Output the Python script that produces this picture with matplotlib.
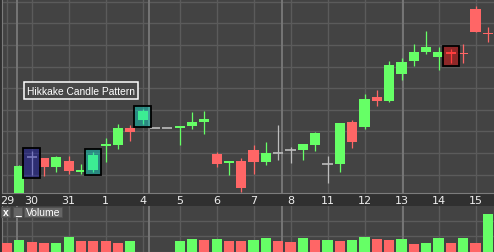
import numpy as np
import matplotlib
matplotlib.use("Agg")
import matplotlib.pyplot as plt
from matplotlib.patches import Rectangle

# ohlc, one bar per slot (slot 0 only has a volume bar)
opens = [np.nan, 100.4, 104.2, 104.1, 103.2, 103.8, 102.7, 102.9, 105.3, 105.4,
         107.1, 107.9, 107.1, 107.1, 107.1, 107.3, 107.7, 104.5, 103.6, 103.8,
         104.9, 103.7, 104.6, 104.9, 104.9, 105.4, 103.5, 103.5, 107.7, 107.2,
         110.2, 109.8, 112.5, 113.8, 114.7, 114.2, 114.7, 114.6, 119.0, 116.6]
highs = [np.nan, 103.4, 104.8, 104.1, 104.3, 104.3, 103.5, 104.7, 106.1, 107.5,
         107.4, 109.0, 107.1, 107.1, 107.3, 108.7, 108.8, 104.7, 103.8, 104.1,
         105.4, 105.7, 107.4, 105.2, 105.5, 106.7, 104.3, 107.6, 107.9, 110.5,
         110.9, 113.8, 114.1, 115.5, 116.8, 115.2, 115.0, 115.5, 119.3, 117.2]
lows = [np.nan, 100.0, 102.4, 102.3, 102.7, 102.5, 102.5, 102.7, 103.7, 105.0,
        105.8, 107.5, 107.1, 107.1, 105.4, 107.0, 106.5, 103.2, 102.4, 100.7,
        102.5, 103.4, 103.9, 103.6, 103.9, 104.8, 101.6, 102.7, 105.1, 107.0,
        109.3, 109.7, 111.9, 113.3, 114.5, 112.9, 113.6, 113.6, 116.7, 115.7]
closes = [np.nan, 103.3, 104.2, 103.2, 104.2, 102.8, 102.9, 104.4, 105.5, 107.1,
          106.7, 108.8, 107.1, 107.1, 107.3, 107.7, 108.0, 103.5, 103.8, 101.1,
          103.7, 104.6, 104.6, 104.9, 105.5, 106.6, 103.5, 107.6, 105.7, 110.0,
          109.8, 113.4, 113.7, 114.7, 115.2, 114.7, 114.5, 114.5, 116.7, 116.5]

volume = [9, 12, 10, 9, 9, 15, 11, 11, 11, 9, 11, 0, 0, 0, 11, 13, 12, 13, 11, 11,
          12, 14, 11, 10, 14, 12, 12, 11, 12, 15, 13, 12, 13, 8, 9, 14, 9, 14, 9, 38]
vol_up = [0, 1, 0, 0, 1, 1, 0, 0, 0, 0, 1, 0, 0, 0, 1, 1, 0, 1, 0, 0,
          1, 1, 0, 0, 1, 0, 1, 0, 1, 1, 0, 0, 1, 0, 1, 1, 0, 1, 0, 1]

date_pos = [0, 2, 5, 8, 11, 14, 17, 20, 23, 26, 29, 32, 35, 38]
date_lbl = ["29", "30", "31", "1", "4", "5", "6", "7", "8", "11", "12", "13", "14", "15"]
session_breaks = [0.8, 11.5, 22.3, 32.1]

# hikkake highlights: bar index, colour
patterns = [(2, (0.05, 0.05, 0.75, 0.38)),
            (7, (0.05, 0.85, 0.78, 0.47)),
            (11, (0.05, 0.85, 0.78, 0.47)),
            (36, (1.0, 0.0, 0.0, 0.4))]

GREEN = "#66ff66"
RED = "#ff6666"
DOJI = "#bdbdbd"
BG = "#434343"
GRID = "#5b5b5b"

fig = plt.figure(figsize=(4.94, 2.53), dpi=100, facecolor="#303030")
ax = fig.add_axes([2 / 494, 59 / 253, 492 / 494, 194 / 253])
vax = fig.add_axes([2 / 494, 0, 492 / 494, 46.5 / 253])

x = np.arange(len(opens))
w = 0.82
for i in x:
    o, h, l, c = opens[i], highs[i], lows[i], closes[i]
    if np.isnan(o):
        continue
    col = GREEN if c > o else (RED if c < o else DOJI)
    ax.vlines(i, l, h, color=col, lw=0.9, zorder=3)
    if c == o:
        ax.hlines(o, i - w / 2, i + w / 2, color=col, lw=1.2, zorder=3)
    else:
        ax.bar(i, abs(c - o), bottom=min(o, c), width=w, color=col, zorder=3)

for i, fc in patterns:
    ax.add_patch(Rectangle((i - 0.66, lows[i] - 0.3), 1.32, highs[i] - lows[i] + 0.6,
                           facecolor=fc, edgecolor="black", lw=1.3, zorder=4))

ax.text(1.6, 110.85, "Hikkake Candle Pattern", color="white", fontsize=7.4,
        family="Liberation Sans", va="center", ha="left", zorder=5,
        bbox=dict(boxstyle="square,pad=0.3", facecolor="#474747", edgecolor="white", lw=1.1))

for a in (ax, vax):
    a.set_facecolor(BG)
    a.set_xlim(-0.4, 39.5)
    a.set_xticks(date_pos)
    a.grid(True, color=GRID, lw=1, zorder=0)
    a.set_axisbelow(True)
    for b in session_breaks:
        a.axvline(b, color="#767676", lw=1.4, zorder=1)
    for s in a.spines.values():
        s.set_color("#7c7c7c")
    a.spines["top"].set_visible(False)
    a.spines["right"].set_visible(False)
    a.tick_params(length=0)
    a.set_yticklabels([])

ax.set_ylim(100.6, 120.0)
ax.set_yticks(119.73 - 2.162 * np.arange(9))
ax.set_xticklabels(date_lbl, color="#eeeeee", fontsize=8)
ax.tick_params(axis="x", pad=1.2)

vax.bar(x, volume, width=w, color=[GREEN if u else RED for u in vol_up], zorder=3)
vax.set_ylim(0, 46.5)
vax.set_yticks([16, 31])
vax.set_xticklabels([])

# little header buttons on the volume pane
for x0, wd, txt in [(1, 9, "x"), (13, 9, "_"), (24, 38, "Volume")]:
    fig.add_artist(Rectangle((x0 / 494, (253 - 218) / 253), wd / 494, 10 / 253,
                             transform=fig.transFigure, facecolor="#666666",
                             edgecolor="#505050", lw=0.6, zorder=10))
    fig.text((x0 + wd / 2) / 494, (253 - 213) / 253, txt, color="white",
             fontsize=7.5, family="Liberation Sans", ha="center", va="center", zorder=11,
             fontweight="bold" if txt != "Volume" else "normal")

fig.savefig("out.png", dpi=100, facecolor=fig.get_facecolor())
